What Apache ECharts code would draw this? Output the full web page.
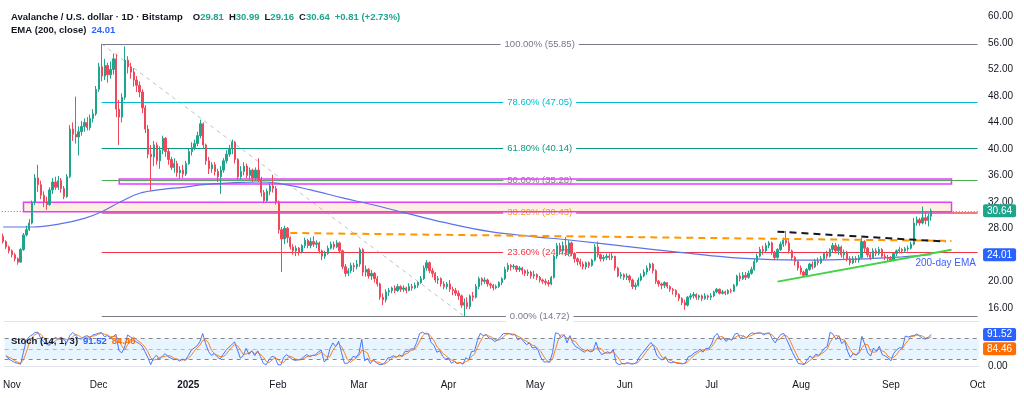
<!DOCTYPE html>
<html><head><meta charset="utf-8">
<script src="https://cdn.jsdelivr.net/npm/echarts@6/dist/echarts.min.js"></script>
<style>html,body{margin:0;padding:0;background:#fff}#c{width:1024px;height:398px}</style>
</head><body><div id="c"></div>
<script>
// ---------- categories & tick labels ----------
const N_CATEGORIES = 337; // Oct 30 2024 .. Oct 1 2025
const MONTH_LABELS = ['2025','Feb','Mar','Apr','May','Jun','Jul','Aug','Sep','Oct','Nov','Dec'];
const PRICE_TICKS = [16,20,24,28,32,36,40,44,48,52,56,60];
const dates = [];
for (let k = 0; k < N_CATEGORIES; k++) {
  dates.push(new Date(Date.UTC(2024, 9, 30 + k)).toISOString().slice(0, 10));
}

// ---------- AVAX/USD daily candles (open = previous close) ----------
const FIRST_OPEN = 26.8;
const close = [
 26.0,25.2,24.6,24.0,23.4,22.9,24.8,27.0,27.8,28.8,31.9,35.6,
 34.6,33.0,32.0,31.6,33.8,35.0,34.2,35.2,34.0,32.8,
 35.8,43.0,42.2,41.8,42.6,43.4,44.0,43.2,44.6,45.3,
 49.0,52.4,51.0,52.6,51.2,52.0,53.6,46.0,44.8,47.8,53.4,52.4,51.6,50.4,49.6,48.6,46.2,43.0,39.2,38.8,40.6,38.2,39.8,41.6,39.6,38.4,37.2,37.8,36.4,36.8,36.2,
 37.8,39.6,40.2,40.8,42.0,43.8,40.6,38.2,37.0,37.6,36.6,35.8,36.8,38.2,39.2,40.0,41.0,38.4,35.8,36.6,37.4,36.0,36.8,35.6,36.8,35.4,33.4,32.2,33.6,34.4,34.0,
 32.0,27.8,26.4,28.0,26.6,25.2,24.6,25.0,24.4,25.4,26.2,25.4,26.0,25.6,25.8,24.6,23.8,24.2,25.0,25.6,25.2,25.8,24.6,22.2,21.2,21.6,22.4,22.2,
 22.6,24.8,21.4,21.8,20.8,21.2,20.4,19.6,17.6,17.2,18.4,18.6,19.0,18.6,19.2,18.8,19.0,18.6,19.2,19.0,19.4,19.8,20.4,22.0,22.8,21.6,21.2,20.2,20.4,19.6,19.2,
 19.6,18.8,18.6,18.2,17.8,16.4,16.8,16.2,17.8,17.6,19.2,20.4,20.0,20.2,19.6,19.4,19.0,19.2,19.8,20.4,21.8,22.4,22.2,22.3,21.8,22.0,21.6,21.2,21.4,20.8,
 21.0,20.6,20.2,20.0,19.8,19.6,20.6,23.8,25.4,24.6,25.4,24.2,25.8,24.2,23.4,23.0,22.6,22.2,22.8,22.4,23.2,25.2,24.0,23.4,23.6,23.8,23.6,23.8,22.0,20.8,21.0,
 20.6,20.8,20.2,19.2,19.4,20.2,20.8,21.4,22.0,22.6,21.6,20.0,19.6,19.4,19.8,19.2,18.8,18.6,18.0,17.4,16.8,16.4,17.6,17.8,18.0,17.6,17.8,17.4,17.8,17.6,
 17.8,18.4,18.8,18.2,18.4,18.2,18.6,18.5,19.4,20.8,20.4,20.9,20.6,21.2,21.8,23.0,23.8,24.8,24.6,25.4,25.8,24.4,23.6,24.8,25.6,26.2,25.8,24.6,23.6,23.0,22.0,
 21.4,20.9,21.8,22.6,22.2,23.0,22.8,23.4,24.2,23.8,24.8,25.4,24.6,25.2,24.0,24.4,23.4,22.8,23.4,23.2,23.6,26.0,25.0,24.0,23.6,24.6,24.2,24.8,23.8,23.6,23.4,
 23.2,24.2,24.6,24.8,24.6,24.9,25.0,25.6,28.8,29.3,28.8,29.6,29.2,29.81,30.64
];
const high = [
 27.2,26.2,25.4,24.8,24.3,23.6,25.0,27.3,28.4,29.4,32.2,36.2,
 37.6,35.2,33.6,32.8,34.2,35.6,35.8,35.9,35.6,34.4,
 36.2,43.6,44.0,47.9,43.4,44.2,44.6,44.8,45.2,46.0,
 49.5,53.0,55.85,53.6,53.0,53.2,54.4,54.3,47.4,48.4,55.5,54.0,53.0,52.2,51.0,50.2,49.0,46.6,43.6,40.6,41.2,41.0,40.4,42.0,41.8,40.0,38.8,38.6,38.2,37.4,37.6,
 38.2,40.0,41.0,41.4,42.6,44.4,44.0,40.8,38.8,38.0,38.0,37.0,37.4,38.6,39.8,40.6,41.4,41.2,38.6,37.4,38.0,37.8,37.2,37.0,37.2,38.6,35.8,33.8,34.0,34.8,36.1,
 34.4,32.2,28.2,28.4,28.2,26.8,25.6,25.4,25.2,25.6,26.6,26.4,26.6,26.8,26.2,26.0,24.8,24.6,25.4,26.0,26.0,26.2,26.0,24.8,22.6,22.0,22.8,22.8,
 23.2,25.1,25.0,22.4,22.0,21.7,21.4,20.8,19.8,18.2,18.8,19.0,19.2,19.4,19.6,19.4,19.4,19.2,19.7,19.6,19.8,20.0,20.8,22.4,23.2,23.0,22.0,21.4,20.8,20.6,20.0,
 19.9,20.2,19.2,19.0,18.6,18.0,17.4,17.6,18.0,18.4,19.6,20.7,20.6,20.6,20.4,19.8,19.6,19.5,20.0,20.6,22.2,22.8,22.6,22.6,22.4,22.3,22.2,21.8,21.8,21.6,
 21.6,21.2,20.8,20.4,20.4,20.2,20.8,24.0,25.8,25.8,26.0,26.7,26.2,26.0,24.4,23.6,23.4,23.0,23.0,23.0,23.4,25.6,26.0,24.2,24.0,24.2,24.2,24.4,23.8,22.2,21.4,
 21.2,21.2,21.0,20.4,19.8,20.6,21.2,21.8,22.4,22.8,22.8,21.8,20.2,19.8,20.0,19.8,19.4,19.0,18.8,18.2,17.6,17.2,17.8,18.2,18.4,18.2,18.0,18.0,18.2,18.0,
 18.2,18.6,19.0,18.9,18.7,18.6,18.8,18.9,19.6,21.0,21.3,21.4,21.4,21.6,22.2,23.4,24.2,25.2,25.4,25.8,26.1,26.0,24.6,25.0,26.0,26.6,27.6,26.2,24.8,23.8,23.2,
 22.4,21.6,22.0,22.8,23.0,23.4,23.6,23.8,24.4,24.6,25.0,25.8,25.8,25.6,25.4,24.8,24.6,23.8,23.8,23.8,24.0,26.6,26.2,25.2,24.4,25.0,25.0,25.2,25.0,24.2,24.0,
 23.8,24.4,24.8,25.2,25.0,25.2,25.4,26.0,29.6,29.8,29.6,31.3,30.4,30.2,30.99
];
const low = [
 25.7,24.9,24.2,23.6,23.0,22.5,22.8,24.6,26.8,27.6,28.6,31.5,
 33.5,32.4,31.2,30.8,31.4,33.2,33.8,33.8,33.4,32.4,
 32.6,35.6,41.2,40.8,39.0,42.0,42.6,42.8,42.8,44.0,
 45.0,48.6,50.2,50.4,50.0,50.6,51.2,44.8,40.6,44.0,47.4,51.4,50.6,49.4,48.6,47.8,45.4,42.4,38.6,33.7,37.4,37.6,37.0,39.2,38.8,37.6,36.8,36.4,35.8,35.5,35.6,
 35.9,37.6,39.0,39.8,40.4,41.6,40.0,37.6,36.2,36.4,36.0,35.0,33.2,36.4,37.8,38.8,39.2,37.8,35.2,35.4,36.0,35.6,35.4,35.0,35.2,35.0,32.8,31.8,32.0,33.0,33.4,
 31.6,27.2,21.4,25.6,25.8,24.8,24.0,23.8,23.9,24.2,25.0,25.0,25.0,25.2,25.0,24.2,23.2,23.4,24.0,24.8,24.8,25.0,24.2,21.8,20.7,20.8,21.2,21.4,
 21.8,22.2,20.8,20.7,20.4,20.2,19.8,19.2,17.2,16.4,16.8,17.8,18.2,18.2,18.4,18.4,18.4,18.2,18.5,18.6,18.8,19.0,19.6,20.2,21.6,21.2,20.6,19.8,19.6,19.2,18.8,
 18.8,18.4,17.9,17.8,17.2,16.0,14.72,15.8,15.8,17.0,17.4,18.8,19.4,19.6,19.2,18.9,18.6,18.8,19.0,19.4,20.2,21.4,21.6,21.8,21.4,21.4,21.0,20.8,20.8,20.4,
 20.4,20.2,19.8,19.6,19.4,19.2,19.4,20.4,23.4,24.0,24.2,23.8,23.8,23.8,22.8,22.4,22.2,21.8,21.8,22.0,22.2,23.0,23.6,23.0,23.0,23.2,23.2,23.2,21.6,20.6,20.4,
 20.2,20.2,19.8,18.8,18.7,19.2,20.0,20.6,21.0,21.6,21.2,19.6,19.2,18.8,19.0,18.9,18.4,18.0,17.6,17.0,16.4,15.7,16.2,17.2,17.4,17.2,17.2,17.0,17.2,17.2,
 17.2,17.6,18.2,18.0,18.0,17.9,18.0,18.2,18.4,19.2,20.0,20.2,20.2,20.4,21.0,21.6,22.8,23.6,24.0,24.4,25.0,24.0,23.2,23.4,24.6,25.2,25.4,24.2,23.2,22.4,21.6,
 21.0,20.6,20.8,21.6,21.8,22.0,22.4,22.6,23.2,23.4,23.6,24.4,24.2,24.0,23.6,23.4,23.0,22.4,22.6,22.8,22.8,23.4,24.4,23.6,23.2,23.4,23.8,23.9,23.6,23.2,23.0,
 22.9,23.0,23.8,24.2,24.2,24.3,24.5,24.8,25.4,28.4,28.4,28.6,28.6,28.3,29.16
];

// ---------- EMA(200) at sample days ----------
const emaIdx = [0,10,20,28,34,40,47,55,62,69,80,88,95,106,117,127,139,152,168,182,196,214,235,254,275,298,310,320];
const emaVal = [28.2,28.2,28.7,29.5,30.5,31.9,33.3,33.9,34.2,34.6,34.9,35.0,34.8,33.8,32.6,31.6,30.3,28.9,27.5,26.8,26.2,25.3,24.3,23.5,23.2,23.4,23.7,24.01];

// ---------- Stochastic (14,1,3) ----------
const stochK = [
 30,20,15,10,8,5,40,75,85,90,97,98,
 80,70,63,60,75,83,78,84,76,68,
 88,97,90,80,78,85,88,82,90,92,95,97,85,88,82,85,92,
 45,38,55,90,84,78,70,65,58,42,25,4,23,
 31,20,28,36,27,23,18,20,14,20,17,
 30,45,52,58,70,94,65,42,31,36,27,20,33,45,54,61,70,
 47,23,30,51,34,44,30,44,27,7,4,20,28,25,
 4,3,25,33,26,19,16,18,20,27,33,27,31,32,41,46,12,19,50,67,56,72,39,8,8,15,28,25,
 36,77,15,22,7,18,10,5,4,9,23,25,30,25,32,28,43,42,50,49,68,94,98,93,93,68,60,40,44,28,20,
 23,8,13,7,10,5,24,18,42,43,74,95,88,91,81,78,71,75,85,94,94,94,90,91,76,81,71,62,67,52,
 55,45,24,12,12,11,39,96,94,82,91,67,88,67,56,51,45,40,48,41,44,69,45,33,37,41,37,48,9,4,7,
 7,10,6,6,10,26,37,47,58,68,57,32,22,17,27,12,9,12,8,7,6,10,27,30,38,42,49,40,51,51,
 64,87,94,76,82,71,80,75,92,95,79,87,80,91,96,94,96,96,90,95,96,78,67,81,92,94,76,58,39,23,7,
 6,4,17,29,23,34,31,40,51,57,98,92,77,88,65,73,43,25,37,32,42,86,62,38,29,52,43,57,33,29,24,
 15,37,47,53,52,87,84,87,88,93,86,80,78,83.9,91.52
];
const stochD = [
 30,25,21.7,15,11,7.7,17.7,40,66.7,83.3,90.7,95,
 91.7,82.7,71,64.3,66,72.7,78.7,81.7,79.3,76,
 77.3,84.3,91.7,89,82.7,81,83.7,85,86.7,88,92.3,94.7,92.3,90,85,85,86.3,
 74,58.3,46,61,76.3,84,77.3,71,64.3,55,41.7,23.7,17.3,
 19.3,24.7,26.3,28,30.3,28.7,22.7,20.3,17.3,18,17,
 22.3,30.7,42.3,51.7,60,74,76.3,67,46,36.3,31.3,27.7,26.7,32.7,44,53.3,61.7,
 59.3,46.7,33.3,34.7,38.3,43,36,39.3,33.7,26,12.7,10.3,17.3,24.3,
 19,10.7,10.7,20.3,28,26,20.3,17.7,18,21.7,26.7,29,30.3,30,34.7,39.7,33,25.7,27,45.3,57.7,65,55.7,39.7,18.3,10.3,17,22.7,
 29.7,46,42.7,38,14.7,15.7,11.7,11,6.3,6,12,19,26,26.7,29,28.3,34.3,37.7,45,47,55.7,70.3,86.7,95,94.7,84.7,73.7,56,48,37.3,30.7,
 23.7,17,14.7,9.3,10,7.3,13,15.7,28,34.3,53,70.7,85.7,91.3,86.7,83.3,76.7,74.7,77,84.7,91,94,92.7,91.7,85.7,82.7,76,71.3,66.7,60.3,
 58,50.7,41.3,27,16,11.7,20.7,48.7,76.3,90.7,89,80,82,74,70.3,58,50.7,45.3,44.3,43,44.3,51.3,52.7,49,38.3,37,38.3,42,31.3,20.3,6.7,
 6,8,7.7,7.3,7.3,14,24.3,36.7,47.3,57.7,61,52.3,37,23.7,22,18.7,16,11,9.7,9,7,7.7,14.3,22.3,31.7,36.7,43,43.7,46.7,47.3,
 55.3,67.3,81.7,85.7,84,76.3,77.7,75.3,82.3,87.3,88.7,87,82,86,89,93.7,95.3,95.3,94,93.7,93.7,89.7,80.3,75.3,80,89,87.3,76,57.7,40,23,
 12,5.7,9,16.7,23,28.7,29.3,35,40.7,49.3,68.7,82.3,89,85.7,76.7,75.3,60.3,47,35,31.3,37,53.3,63.3,62,43,39.7,41.3,50.7,44.3,39.7,28.7,
 22.7,25.3,33,45.7,50.7,64,74.3,86,86.3,89.3,89,86.3,81.3,80.6,84.46
];

// ---------- drawings (category index, price) ----------
const fibLevels = [1, 0.786, 0.618, 0.5, 0.382, 0.236, 0];
const fibPrices = [55.85, 47.05, 40.14, 35.28, 30.43, 24.43, 14.72];
const fibAnchors = [[34, 55.85], [159, 14.72]];
const boxUpper = [[40, 35.45], [327, 34.7]];
const boxLower = [[7, 31.93], [327, 30.5]];
const orangeLine = [[99, 27.3], [327, 26.1]];
const blackLine = [[267, 27.5], [325, 26.0]];
const greenLine = [[267, 19.95], [327, 24.75]];
const emaTextAt = [325, 22.76];
const lastEma = 24.01, lastK = 91.52, lastD = 84.46;
const stochBands = [80, 50, 20];

if ([high.length, low.length, stochK.length, stochD.length].some(n => n !== close.length)) {
  throw new Error('length mismatch ' + [close.length, high.length, low.length, stochK.length, stochD.length].join(','));
}

// ---------- styles ----------
const UP = '#1fa58c', DOWN = '#f0485a';
const FIB_LINE = ['#787b86', '#00bcd4', '#089981', '#4caf50', '#ef4f4f', '#f23645', '#787b86'];
const FIB_TEXT = ['#787b86', '#00bcd4', '#089981', '#7d8a7d', '#ff9800', '#f23645', '#787b86'];
const FONT = '"Liberation Sans", Arial, sans-serif';
const TXT = '#131722';
const LAST = close.length - 1;
const HIDDEN = { color: 'rgba(0,0,0,0)', width: 0 };

const ohlc = close.map((c, k) => [k ? close[k - 1] : FIRST_OPEN, c, low[k], high[k]]);
const pt = p => [dates[p[0]], p[1]];
const f2 = v => v.toFixed(2);
const tag = (text, bg, extra) => Object.assign({ show: true, position: 'end', distance: 4, formatter: text, color: '#fff',
  backgroundColor: bg, padding: [2, 4, 1, 4], borderRadius: 2, fontSize: 10, fontFamily: FONT }, extra || {});

const fibLines = fibPrices.map((p, k) => [
  { coord: [dates[fibAnchors[0][0]], p],
    lineStyle: { color: FIB_LINE[k], width: k === 4 ? 1.5 : 1, type: 'solid' },
    label: { show: true, position: 'middle', distance: 0, verticalAlign: 'middle',
             formatter: (fibLevels[k] * 100).toFixed(2) + '% (' + f2(p) + ')',
             color: FIB_TEXT[k], fontSize: 9.5, fontFamily: FONT, backgroundColor: '#fff', padding: [1, 4] } },
  { coord: [dates[N_CATEGORIES - 1], p] }
]);

const chart = echarts.init(document.getElementById('c'), null, { renderer: 'canvas' });
chart.setOption({
  animation: false,
  backgroundColor: '#fff',
  textStyle: { fontFamily: FONT },
  title: [
    { left: 11, top: 8, padding: 0,
      text: '{n|Avalanche / U.S. dollar · 1D · Bitstamp}  {n|O}{v|' + f2(ohlc[LAST][0]) + '} {n|H}{v|' + f2(high[LAST]) +
            '} {n|L}{v|' + f2(low[LAST]) + '} {n|C}{v|' + f2(close[LAST]) + '} {v|+0.81 (+2.73%)}',
      textStyle: { rich: { n: { color: TXT, fontSize: 9.5, fontFamily: FONT }, v: { color: UP, fontSize: 9.5, fontFamily: FONT } } } },
    { left: 11, top: 21, padding: 0,
      text: '{n|EMA (200, close)} {b|' + f2(lastEma) + '}',
      textStyle: { rich: { n: { color: TXT, fontSize: 9.5, fontFamily: FONT }, b: { color: '#2962ff', fontSize: 9.5, fontFamily: FONT } } } },
    { left: 11, top: 332, padding: 0,
      text: '{n|Stoch (14, 1, 3)} {b|' + f2(lastK) + '} {o|' + f2(lastD) + '}',
      textStyle: { rich: { n: { color: TXT, fontSize: 9.5, fontFamily: FONT }, b: { color: '#2962ff', fontSize: 9.5, fontFamily: FONT }, o: { color: '#ff6d00', fontSize: 9.5, fontFamily: FONT } } } }
  ],
  grid: [
    { left: 1.75, width: 977.3, top: 3.26, height: 331 },
    { left: 1.75, width: 977.3, top: 321.15, height: 51.75 }
  ],
  xAxis: [
    { type: 'category', gridIndex: 0, data: dates, show: false },
    { type: 'category', gridIndex: 1, data: dates,
      axisLine: { lineStyle: { color: '#e0e3eb' } }, axisTick: { show: false }, splitLine: { show: false },
      axisLabel: { color: TXT, fontSize: 10, margin: 7, hideOverlap: false,
        interval: (i, v) => v.slice(8) === '01',
        formatter: v => { const m = +v.slice(5, 7); return m === 1 ? '{y|' + v.slice(0, 4) + '}' : MONTH_LABELS[m - 1]; },
        rich: { y: { fontWeight: 'bold', fontSize: 10, color: TXT, fontFamily: FONT } } } },
    { type: 'category', gridIndex: 1, data: dates, position: 'top',
      axisLine: { lineStyle: { color: '#e0e3eb' } }, axisTick: { show: false }, axisLabel: { show: false } }
  ],
  yAxis: [
    { type: 'value', gridIndex: 0, position: 'right', min: 12, max: 62, interval: 2,
      splitLine: { show: false }, axisLine: { show: false }, axisTick: { show: false },
      axisLabel: { color: TXT, fontSize: 10, margin: 9, formatter: v => PRICE_TICKS.includes(v) ? f2(v) : '' } },
    { type: 'value', gridIndex: 1, position: 'right', min: -20, max: 130, interval: 10,
      splitLine: { show: false }, axisLine: { show: false }, axisTick: { show: false },
      axisLabel: { color: TXT, fontSize: 10, margin: 9, formatter: v => v === 0 ? '0.00' : '' } }
  ],
  series: [
    { name: 'fib', type: 'line', xAxisIndex: 0, yAxisIndex: 0, data: [], z: 1, silent: true,
      markLine: { z: 1, symbol: ['none', 'none'], silent: true,
        data: fibLines.concat([
          [{ coord: pt(fibAnchors[0]), lineStyle: { color: '#9598a1', width: 1, type: [4, 4], opacity: 0.6 }, label: { show: false } },
           { coord: pt(fibAnchors[1]) }],
          { yAxis: close[LAST], lineStyle: { color: UP, width: 1, type: [1, 2] }, label: tag(f2(close[LAST]), UP) }
        ]) } },
    { name: 'boxes', type: 'line', xAxisIndex: 0, yAxisIndex: 0, data: [], z: 2, silent: true,
      markArea: { z: 2, silent: true, label: { show: false },
        data: [
          [{ coord: pt(boxUpper[0]), itemStyle: { color: 'rgba(224,64,251,0.07)', borderColor: '#e040fb', borderWidth: 1.5 } },
           { coord: pt(boxUpper[1]) }],
          [{ coord: pt(boxLower[0]), itemStyle: { color: 'rgba(255,140,60,0.15)', borderColor: '#e040fb', borderWidth: 1.5 } },
           { coord: pt(boxLower[1]) }]
        ] } },
    { name: 'AVAX', type: 'candlestick', xAxisIndex: 0, yAxisIndex: 0, data: ohlc, z: 3, barWidth: 1.8,
      itemStyle: { color: UP, color0: DOWN, borderColor: UP, borderColor0: DOWN, borderWidth: 1 } },
    { name: 'EMA', type: 'line', xAxisIndex: 0, yAxisIndex: 0, z: 3, smooth: 0.4, showSymbol: false, symbol: 'none',
      data: emaIdx.map((k, j) => [dates[k], emaVal[j]]),
      lineStyle: { color: '#5b73e8', width: 1.2 } },
    { name: 'drawings', type: 'line', xAxisIndex: 0, yAxisIndex: 0, data: [], z: 5, silent: true,
      markLine: { z: 5, symbol: ['none', 'none'], silent: true, label: { show: false },
        data: [
          [{ coord: pt(orangeLine[0]), lineStyle: { color: '#ff9800', width: 2, type: [7, 5] } }, { coord: pt(orangeLine[1]) }],
          [{ coord: pt(blackLine[0]), lineStyle: { color: '#131722', width: 2, type: [7, 5] } }, { coord: pt(blackLine[1]) }],
          [{ coord: pt(greenLine[0]), lineStyle: { color: '#43d147', width: 2, type: 'solid' } }, { coord: pt(greenLine[1]) }],
          { yAxis: lastEma, lineStyle: HIDDEN, label: tag(f2(lastEma), '#2962ff') }
        ] },
      markPoint: { z: 5, symbol: 'rect', symbolSize: [1, 1], itemStyle: { color: 'rgba(0,0,0,0)' },
        label: { show: true, position: 'inside', formatter: '200-day EMA', color: '#3f5efb', fontSize: 10, fontFamily: FONT },
        data: [{ coord: pt(emaTextAt) }] } },
    { name: '%K', type: 'line', xAxisIndex: 1, yAxisIndex: 1, data: stochK, z: 3, showSymbol: false, symbol: 'none',
      lineStyle: { color: '#2962ff', width: 1, opacity: 0.85 },
      markArea: { z: 1, silent: true, itemStyle: { color: 'rgba(33,150,243,0.1)' }, data: [[{ yAxis: stochBands[2] }, { yAxis: stochBands[0] }]] },
      markLine: { symbol: ['none', 'none'], silent: true,
        data: stochBands.map(b => ({ yAxis: b, lineStyle: { color: '#787b86', width: 1, type: [4, 4], opacity: b === 50 ? 0.5 : 0.9 }, label: { show: false } }))
          .concat([{ yAxis: lastK, lineStyle: HIDDEN, label: tag(f2(lastK), '#2962ff') }]) } },
    { name: '%D', type: 'line', xAxisIndex: 1, yAxisIndex: 1, data: stochD, z: 3, showSymbol: false, symbol: 'none',
      lineStyle: { color: '#ff6d00', width: 1, opacity: 0.85 },
      markLine: { symbol: ['none', 'none'], silent: true,
        data: [{ yAxis: lastD, lineStyle: HIDDEN, label: tag(f2(lastD), '#ff6d00', { offset: [0, 12] }) }] } }
  ]
});
</script></body></html>
